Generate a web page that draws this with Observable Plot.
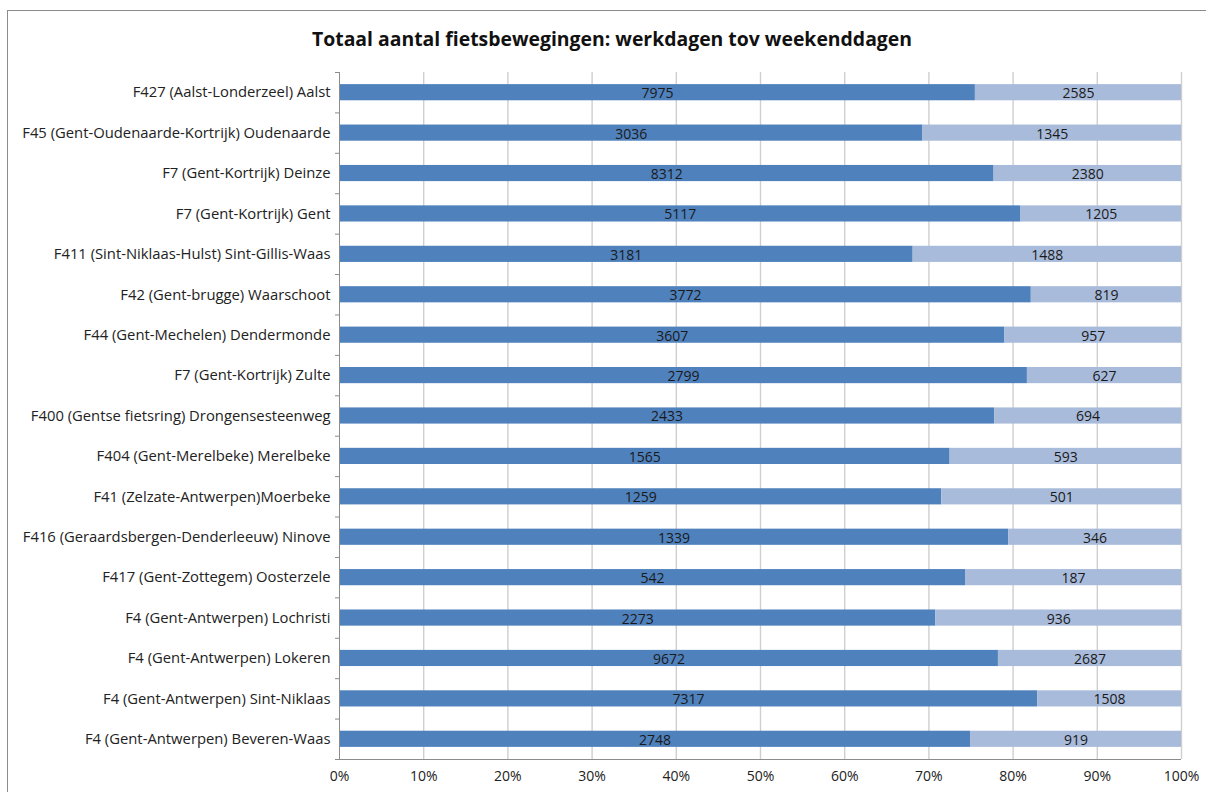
<!DOCTYPE html>
<html>
<head>
<meta charset="utf-8">
<script src="https://cdn.jsdelivr.net/npm/d3@7"></script>
<script src="https://cdn.jsdelivr.net/npm/@observablehq/plot@0.6"></script>
<style>
  body { margin: 0; background: #fff; }
  #wrap { position: relative; width: 1206px; height: 792px; overflow: hidden; font-family: "Open Sans", sans-serif; }
  #border { position: absolute; left: 7px; top: 10px; width: 1220px; height: 820px; border: 1px solid #8c8c8c; box-sizing: border-box; }
  #title { position: absolute; left: 0; width: 1224px; top: 25px; text-align: center; font-size: 19.4px; font-weight: bold; color: #111; }
  #chart { position: absolute; left: 0; top: 0; }
</style>
</head>
<body>
<div id="wrap">
  <div id="border"></div>
  <div id="chart"></div>
  <div id="title">Totaal aantal fietsbewegingen: werkdagen tov weekenddagen</div>
</div>
<script>
const categories = [
  "F427 (Aalst-Londerzeel) Aalst",
  "F45 (Gent-Oudenaarde-Kortrijk) Oudenaarde",
  "F7 (Gent-Kortrijk) Deinze",
  "F7 (Gent-Kortrijk) Gent",
  "F411 (Sint-Niklaas-Hulst) Sint-Gillis-Waas",
  "F42 (Gent-brugge) Waarschoot",
  "F44 (Gent-Mechelen) Dendermonde",
  "F7 (Gent-Kortrijk) Zulte",
  "F400 (Gentse fietsring) Drongensesteenweg",
  "F404 (Gent-Merelbeke) Merelbeke",
  "F41 (Zelzate-Antwerpen)Moerbeke",
  "F416 (Geraardsbergen-Denderleeuw) Ninove",
  "F417 (Gent-Zottegem) Oosterzele",
  "F4 (Gent-Antwerpen) Lochristi",
  "F4 (Gent-Antwerpen) Lokeren",
  "F4 (Gent-Antwerpen) Sint-Niklaas",
  "F4 (Gent-Antwerpen) Beveren-Waas"
];
const werkdagen = [7975, 3036, 8312, 5117, 3181, 3772, 3607, 2799, 2433, 1565, 1259, 1339, 542, 2273, 9672, 7317, 2748];
const weekenddagen = [2585, 1345, 2380, 1205, 1488, 819, 957, 627, 694, 593, 501, 346, 187, 936, 2687, 1508, 919];
const seriesNames = ["werkdagen", "weekenddagen"];
const xTicks = [0, 0.1, 0.2, 0.3, 0.4, 0.5, 0.6, 0.7, 0.8, 0.9, 1];

const rows = [];
categories.forEach((c, i) => {
  rows.push({cat: c, series: seriesNames[0], value: werkdagen[i]});
  rows.push({cat: c, series: seriesNames[1], value: weekenddagen[i]});
});

const step = (759 - 72) / categories.length;
const lastCat = categories[categories.length - 1];

const chart = Plot.plot({
  width: 1206,
  height: 792,
  marginLeft: 339,
  marginRight: 25,
  marginTop: 72,
  marginBottom: 33,
  style: {fontFamily: "'Open Sans', sans-serif", fontSize: "14px", color: "#222", background: "transparent"},
  x: {domain: [0, 1]},
  y: {domain: categories, paddingInner: 0.6, paddingOuter: 0.3, round: false, label: null},
  color: {domain: seriesNames, range: ["#4f81bd", "#a9bbdb"]},
  marks: [
    Plot.ruleX(xTicks.slice(1), {stroke: "#cfcfcf", strokeWidth: 1.4}),
    Plot.barX(rows, Plot.stackX({offset: "normalize", x: "value", y: "cat", fill: "series"})),
    Plot.textX(rows, Plot.stackX({offset: "normalize", x: "value", y: "cat", text: d => String(d.value), fill: "#1a1a1a", fontSize: 14, dy: 1})),
    Plot.ruleX([0], {stroke: "#8c8c8c", strokeWidth: 1}),
    Plot.ruleY(categories, {y: d => d, x1: 0, x2: 0, insetLeft: -4, dy: -step / 2, stroke: "#8c8c8c"}),
    Plot.ruleY([lastCat], {y: d => d, x1: 0, x2: 1, insetLeft: -4, dy: step / 2, stroke: "#8c8c8c"}),
    Plot.ruleX(xTicks, {x: d => d, y1: lastCat, y2: lastCat, dy: step / 2, insetBottom: -4, stroke: "#8c8c8c"}),
    Plot.axisX(xTicks, {tickSize: 0, tickPadding: 12, tickFormat: d3.format(".0%"), label: null, fontSize: 14, fill: "#222"}),
    Plot.axisY({tickSize: 0, tickPadding: 9, label: null, fontSize: 14.8, fill: "#222"})
  ]
});
document.getElementById("chart").appendChild(chart);
</script>
</body>
</html>
